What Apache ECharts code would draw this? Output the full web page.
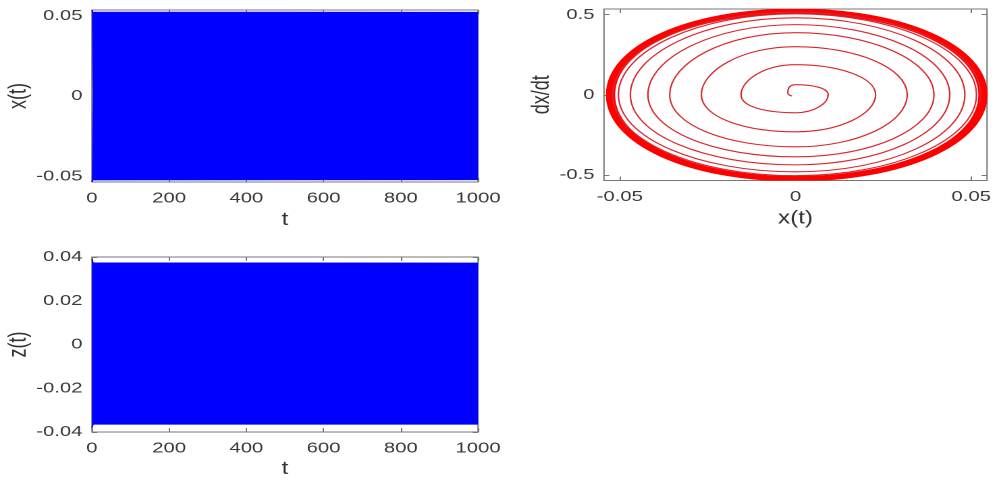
<!DOCTYPE html>
<html style="height: 100%">
  <head>
    <meta charset="utf-8" />
    <script src="https://cdn.jsdelivr.net/npm/echarts@6/dist/echarts.min.js"></script>
  </head>
  <body style="height: 100%; margin: 0; background: #fff; overflow: hidden">
    <!-- the figure is stretched sideways, so draw it narrow and scale x -->
    <div
      id="container"
      style="width: 737px; height: 480px; transform: scaleX(1.35); transform-origin: 0 0"
    ></div>
    <script type="text/javascript">
      // tick labels
      var tTicks = [0, 200, 400, 600, 800, 1000];
      var xTicks = [-0.05, 0, 0.05];
      var zTicks = [-0.04, -0.02, 0, 0.02, 0.04];
      var phaseXTicks = [-0.05, 0, 0.05];
      var phaseYTicks = [-0.5, 0, 0.5];

      // envelopes of the dense oscillations (band edges)
      var xBandTop = [[0, 0.0535], [2, 0.0522], [1000, 0.052]];
      var xBandBottom = [[0, -0.0535], [2, -0.0522], [1000, -0.052]];
      var zBandTop = [[0, 0.039], [3, 0.0373], [1000, 0.0372]];
      var zBandBottom = [[0, -0.038], [3, -0.0364], [1000, -0.0364]];

      // phase portrait: axis crossings of the spiral, [x, dx/dt], clockwise outward
      var spiral = [
        [-0.001, -0.008], [-0.0022, 0.012],
        [0, 0.0625], [0.0093, 0], [0, -0.1125], [-0.0155, 0],
        [0, 0.1875], [0.0228, 0], [0, -0.231], [-0.0268, 0],
        [0, 0.3], [0.0318, 0], [0, -0.325], [-0.0358, 0],
        [0, 0.3875], [0.0394, 0], [0, -0.3875], [-0.042, 0],
        [0, 0.4375], [0.0439, 0], [0, -0.4375], [-0.047, 0],
        [0, 0.48], [0.0482, 0], [0, -0.481], [-0.0504, 0],
        [0, 0.505], [0.0515, 0], [0, -0.505], [-0.052, 0],
        [0, 0.515], [0.0527, 0], [0.0525, -0.05]
      ];
      // limit cycle (thick outer ring): closed loops given as
      // [right x, top dx/dt, left x, bottom dx/dt]
      var ringLoops = [
        [0.0527, 0.515, -0.052, -0.518],
        [0.0534, 0.521, -0.0527, -0.524],
        [0.054, 0.527, -0.0533, -0.53]
      ];

      var font = "Liberation Sans";
      var boxColor = "#777";
      var textColor = "#3a3a3a";

      function plain(v) {
        return String(v);
      }
      function mainX(grid, min, max, ticks, name, gap) {
        return {
          type: "value",
          gridIndex: grid,
          position: "bottom",
          min: min,
          max: max,
          name: name,
          nameLocation: "middle",
          nameGap: gap,
          nameTextStyle: { fontFamily: font, fontSize: 18, color: "#333" },
          axisLine: { show: false, onZero: false },
          axisTick: { inside: true, length: 4, customValues: ticks, lineStyle: { color: boxColor } },
          axisLabel: {
            customValues: ticks,
            formatter: plain,
            margin: 9,
            fontFamily: font,
            fontSize: 15,
            color: textColor
          },
          splitLine: { show: false }
        };
      }
      function mainY(grid, min, max, ticks, name, gap) {
        return {
          type: "value",
          gridIndex: grid,
          position: "left",
          min: min,
          max: max,
          name: name,
          nameLocation: "middle",
          nameGap: gap,
          nameTextStyle: { fontFamily: font, fontSize: 18, color: "#333" },
          axisLine: { show: false, onZero: false },
          axisTick: { inside: true, length: 4, customValues: ticks, lineStyle: { color: boxColor } },
          axisLabel: {
            customValues: ticks,
            formatter: plain,
            margin: 7,
            fontFamily: font,
            fontSize: 15,
            color: textColor
          },
          splitLine: { show: false }
        };
      }
      // top / right copies, only for the inner ticks of the box
      function sideAxis(grid, pos, min, max, ticks) {
        return {
          type: "value",
          gridIndex: grid,
          position: pos,
          min: min,
          max: max,
          axisLine: { show: false, onZero: false },
          axisTick: { inside: true, length: 4, customValues: ticks, lineStyle: { color: boxColor } },
          axisLabel: { show: false },
          splitLine: { show: false }
        };
      }
      function band(xi, data, color) {
        return {
          type: "line",
          xAxisIndex: xi,
          yAxisIndex: xi,
          data: data,
          symbol: "none",
          silent: true,
          lineStyle: { color: color, width: 1 },
          areaStyle: { color: color, opacity: 1 }
        };
      }

      // one closed loop through its four axis crossings, quarter arcs as beziers
      function ringItem(params, api) {
        var k = 0.57;
        var R = api.coord([api.value(0), 0]);
        var T = api.coord([0, api.value(1)]);
        var L = api.coord([api.value(2), 0]);
        var B = api.coord([0, api.value(3)]);
        var d =
          "M" + R[0] + " " + R[1] +
          " C" + R[0] + " " + (R[1] + k * (B[1] - R[1])) + " " + (B[0] + k * (R[0] - B[0])) + " " + B[1] + " " + B[0] + " " + B[1] +
          " C" + (B[0] + k * (L[0] - B[0])) + " " + B[1] + " " + L[0] + " " + (L[1] + k * (B[1] - L[1])) + " " + L[0] + " " + L[1] +
          " C" + L[0] + " " + (L[1] + k * (T[1] - L[1])) + " " + (T[0] + k * (L[0] - T[0])) + " " + T[1] + " " + T[0] + " " + T[1] +
          " C" + (T[0] + k * (R[0] - T[0])) + " " + T[1] + " " + R[0] + " " + (R[1] + k * (T[1] - R[1])) + " " + R[0] + " " + R[1] +
          " Z";
        return {
          type: "path",
          shape: { pathData: d },
          style: { fill: "none", stroke: "#ff0000", lineWidth: 3.5 }
        };
      }

      var dom = document.getElementById("container");
      var myChart = echarts.init(dom, null, { devicePixelRatio: 2 });

      var gridBox = { show: true, borderColor: boxColor, borderWidth: 1, backgroundColor: "transparent" };
      var option = {
        animation: false,
        backgroundColor: "#fff",
        grid: [
          Object.assign({ left: 68.1, top: 10, width: 286, height: 172 }, gridBox),
          Object.assign({ left: 68.1, top: 257, width: 286, height: 175 }, gridBox),
          Object.assign({ left: 447.4, top: 9, width: 286.7, height: 171.5 }, gridBox)
        ],
        xAxis: [
          mainX(0, 0, 1000, tTicks, "t", 29),
          mainX(1, 0, 1000, tTicks, "t", 28),
          mainX(2, -0.0545, 0.0545, phaseXTicks, "x(t)", 29),
          sideAxis(0, "top", 0, 1000, tTicks),
          sideAxis(1, "top", 0, 1000, tTicks),
          sideAxis(2, "top", -0.0545, 0.0545, phaseXTicks)
        ],
        yAxis: [
          mainY(0, -0.0535, 0.0535, xTicks, "x(t)", 43),
          mainY(1, -0.04, 0.04, zTicks, "z(t)", 43),
          mainY(2, -0.535, 0.535, phaseYTicks, "dx/dt", 35),
          sideAxis(0, "right", -0.0535, 0.0535, xTicks),
          sideAxis(1, "right", -0.04, 0.04, zTicks),
          sideAxis(2, "right", -0.535, 0.535, phaseYTicks)
        ],
        series: [
          band(0, xBandTop, "#0000ff"),
          band(0, xBandBottom, "#0000ff"),
          band(1, zBandTop, "#0000ff"),
          band(1, zBandBottom, "#0000ff"),
          {
            type: "line",
            xAxisIndex: 2,
            yAxisIndex: 2,
            data: spiral,
            smooth: 0.55,
            symbol: "none",
            silent: true,
            lineStyle: { color: "#d9262c", width: 1.1 }
          },
          {
            type: "custom",
            xAxisIndex: 2,
            yAxisIndex: 2,
            data: ringLoops,
            encode: { x: [0, 2], y: [1, 3] },
            renderItem: ringItem,
            clip: true,
            silent: true
          }
        ]
      };

      if (option && typeof option === "object") {
        myChart.setOption(option);
      }
    </script>
  </body>
</html>
